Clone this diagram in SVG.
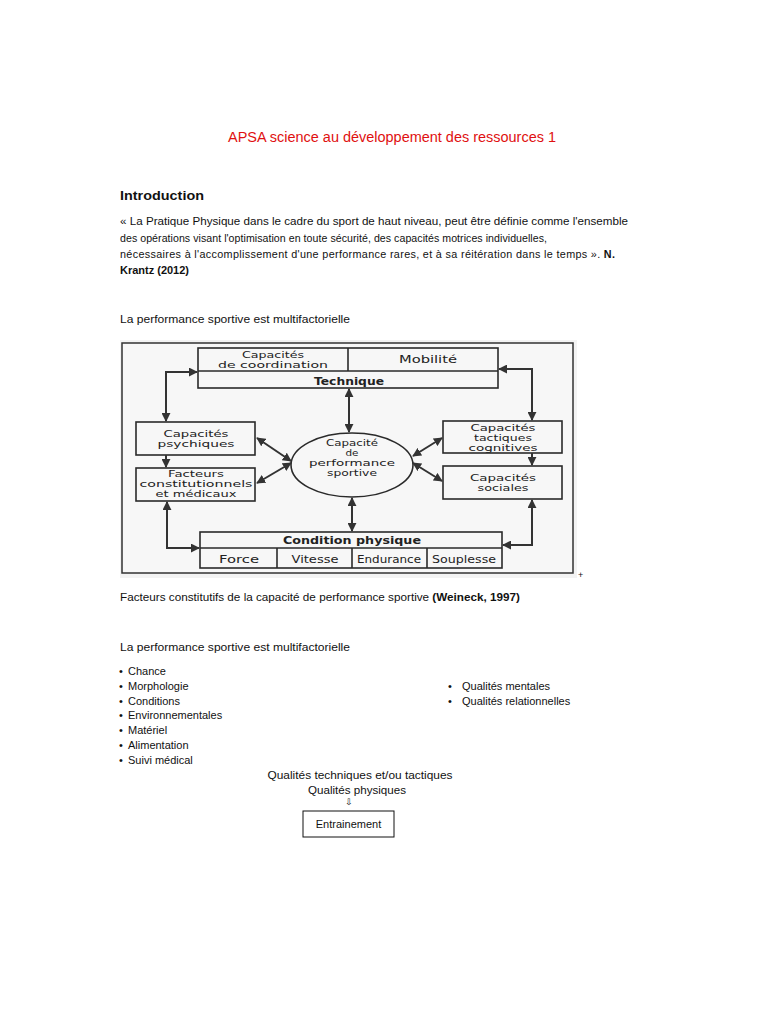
<svg xmlns="http://www.w3.org/2000/svg" width="768" height="1024" viewBox="0 0 768 1024">
<style>
.b{font-family:"Liberation Sans",Arial,sans-serif;font-size:11px;fill:#111}
.d{font-family:"DejaVu Sans","Liberation Sans",sans-serif;font-size:10.5px;fill:#222;text-anchor:middle}
.m{font-size:8.6px}
.db{font-weight:bold}
.box{fill:none;stroke:#2a2a2a;stroke-width:1.6}
.c{fill:none;stroke:#333;stroke-width:2;marker-end:url(#ah)}
.c2{fill:none;stroke:#333;stroke-width:2;marker-start:url(#ah);marker-end:url(#ah)}
</style>
<defs>
<marker id="ah" viewBox="0 0 10 10" refX="9" refY="5" markerWidth="9" markerHeight="9" markerUnits="userSpaceOnUse" orient="auto-start-reverse">
<path d="M0,0 L10,5 L0,10 z" fill="#333"/>
</marker>
</defs>
<rect width="768" height="1024" fill="#fff"/>
<g id="header">
<text x="392" y="142" text-anchor="middle" style="font-family:'Liberation Sans',Arial,sans-serif;font-size:14px;fill:#e01010" textLength="328" lengthAdjust="spacingAndGlyphs">APSA science au développement des ressources 1</text>
<text x="120" y="200" class="b db" style="font-size:13.5px" textLength="84" lengthAdjust="spacingAndGlyphs">Introduction</text>
<text x="120" y="225" class="b" textLength="508" lengthAdjust="spacingAndGlyphs">« La Pratique Physique dans le cadre du sport de haut niveau, peut être définie comme l'ensemble</text>
<text x="120" y="242" class="b" style="font-size:10.6px" textLength="427" lengthAdjust="spacing">des opérations visant l'optimisation en toute sécurité, des capacités motrices individuelles,</text>
<text x="120" y="258" class="b" style="font-size:10.8px" textLength="495" lengthAdjust="spacing">nécessaires à l'accomplissement d'une performance rares, et à sa réitération dans le temps ». <tspan class="db">N.</tspan></text>
<text x="120" y="274" class="b db" textLength="69" lengthAdjust="spacingAndGlyphs">Krantz (2012)</text>
<text x="120" y="323" class="b" textLength="230" lengthAdjust="spacingAndGlyphs">La performance sportive est multifactorielle</text>
</g>
<g id="figure">
<rect x="120" y="340" width="457" height="238" fill="#f3f3f3"/>
<rect x="122" y="343" width="451" height="230" fill="#f7f7f7" stroke="#333" stroke-width="1.5"/>
<text x="578" y="578" class="b" style="font-size:9px">+</text>
</g>
<g id="n-technique">
<rect class="box" x="198" y="348" width="300" height="40" fill="#fafafa"/>
<line class="box" x1="198" y1="371" x2="498" y2="371"/>
<line class="box" x1="348" y1="348" x2="348" y2="371"/>
<text x="273" y="358" class="d m" textLength="62" lengthAdjust="spacingAndGlyphs">Capacités</text>
<text x="273" y="368" class="d m" textLength="110" lengthAdjust="spacingAndGlyphs">de coordination</text>
<text x="428" y="363" class="d" textLength="58" lengthAdjust="spacingAndGlyphs">Mobilité</text>
<text x="349" y="385" class="d db" textLength="70" lengthAdjust="spacingAndGlyphs">Technique</text>
</g>
<g id="n-psych">
<rect class="box" x="136" y="422" width="119" height="33" fill="#fafafa"/>
<text x="196" y="437" class="d m" textLength="65" lengthAdjust="spacingAndGlyphs">Capacités</text>
<text x="196" y="447" class="d m" textLength="77" lengthAdjust="spacingAndGlyphs">psychiques</text>
</g>
<g id="n-facteurs">
<rect class="box" x="136" y="468" width="119" height="33" fill="#fafafa"/>
<text x="196" y="477" class="d m" textLength="56" lengthAdjust="spacingAndGlyphs">Facteurs</text>
<text x="196" y="487" class="d m" textLength="113" lengthAdjust="spacingAndGlyphs">constitutionnels</text>
<text x="196" y="497" class="d m" textLength="81" lengthAdjust="spacingAndGlyphs">et médicaux</text>
</g>
<g id="n-capacite">
<ellipse class="box" cx="352" cy="465" rx="61" ry="32" fill="#fafafa"/>
<text x="352" y="446" class="d m" textLength="52" lengthAdjust="spacingAndGlyphs">Capacité</text>
<text x="352" y="456" class="d m" textLength="13" lengthAdjust="spacingAndGlyphs">de</text>
<text x="352" y="466" class="d m" textLength="86" lengthAdjust="spacingAndGlyphs">performance</text>
<text x="352" y="476" class="d m" textLength="50" lengthAdjust="spacingAndGlyphs">sportive</text>
</g>
<g id="n-tactiques">
<rect class="box" x="443" y="421" width="119" height="32" fill="#fafafa"/>
<text x="503" y="431" class="d m" textLength="65" lengthAdjust="spacingAndGlyphs">Capacités</text>
<text x="503" y="441" class="d m" textLength="58" lengthAdjust="spacingAndGlyphs">tactiques</text>
<text x="503" y="451" class="d m" textLength="69" lengthAdjust="spacingAndGlyphs">cognitives</text>
</g>
<g id="n-sociales">
<rect class="box" x="443" y="466" width="119" height="33" fill="#fafafa"/>
<text x="503" y="481" class="d m" textLength="66" lengthAdjust="spacingAndGlyphs">Capacités</text>
<text x="503" y="491" class="d m" textLength="51" lengthAdjust="spacingAndGlyphs">sociales</text>
</g>
<g id="n-condition">
<rect class="box" x="200" y="532" width="302" height="36" fill="#fafafa"/>
<line class="box" x1="200" y1="548" x2="502" y2="548"/>
<line class="box" x1="277" y1="548" x2="277" y2="568"/>
<line class="box" x1="352" y1="548" x2="352" y2="568"/>
<line class="box" x1="427" y1="548" x2="427" y2="568"/>
<text x="352" y="544" class="d db" textLength="138" lengthAdjust="spacingAndGlyphs">Condition physique</text>
<text x="239" y="563" class="d" textLength="40" lengthAdjust="spacingAndGlyphs">Force</text>
<text x="315" y="563" class="d" textLength="47" lengthAdjust="spacingAndGlyphs">Vitesse</text>
<text x="389" y="563" class="d" textLength="64" lengthAdjust="spacingAndGlyphs">Endurance</text>
<text x="464" y="563" class="d" textLength="64" lengthAdjust="spacingAndGlyphs">Souplesse</text>
</g>
<g id="connectors">
<path class="c2" d="M166,421 L166,372 L197,372"/>
<path class="c" d="M166,455 L166,467"/>
<path class="c2" d="M167,502 L167,548 L199,548"/>
<path class="c2" d="M499,369 L532,369 L532,420"/>
<path class="c" d="M532,453 L532,465"/>
<path class="c2" d="M532,500 L532,545 L503,545"/>
<path class="c2" d="M349,389 L349,432"/>
<path class="c2" d="M352,498 L352,531"/>
<path class="c2" d="M257,438 L291,461"/>
<path class="c2" d="M257,483 L291,463"/>
<path class="c2" d="M413,456 L442,438"/>
<path class="c2" d="M413,463 L442,481"/>
</g>
<g id="text-lower">
<text x="120" y="601" class="b" textLength="400" lengthAdjust="spacingAndGlyphs">Facteurs constitutifs de la capacité de performance sportive <tspan class="db">(Weineck, 1997)</tspan></text>
<text x="120" y="651" class="b" textLength="230" lengthAdjust="spacingAndGlyphs">La performance sportive est multifactorielle</text>
<g class="b">
<text x="119" y="675">•</text><text x="128" y="675">Chance</text>
<text x="119" y="690">•</text><text x="128" y="690">Morphologie</text>
<text x="119" y="705">•</text><text x="128" y="705">Conditions</text>
<text x="119" y="719">•</text><text x="128" y="719">Environnementales</text>
<text x="119" y="734">•</text><text x="128" y="734">Matériel</text>
<text x="119" y="749">•</text><text x="128" y="749">Alimentation</text>
<text x="119" y="764">•</text><text x="128" y="764">Suivi médical</text>
<text x="448" y="690">•</text><text x="462" y="690">Qualités mentales</text>
<text x="448" y="705">•</text><text x="462" y="705">Qualités relationnelles</text>
</g>
<text x="360" y="779" class="b" text-anchor="middle" textLength="185" lengthAdjust="spacingAndGlyphs">Qualités techniques et/ou tactiques</text>
<text x="357" y="794" class="b" text-anchor="middle" textLength="98" lengthAdjust="spacingAndGlyphs">Qualités physiques</text>
<text x="349" y="805" text-anchor="middle" style="font-family:'DejaVu Sans',sans-serif;font-size:9px;fill:#111">⇩</text>
</g>
<g id="n-entrainement">
<rect x="303" y="811" width="91" height="26" fill="#fff" stroke="#111" stroke-width="1"/>
<text x="348.5" y="828" class="b" text-anchor="middle">Entrainement</text>
</g>
</svg>
